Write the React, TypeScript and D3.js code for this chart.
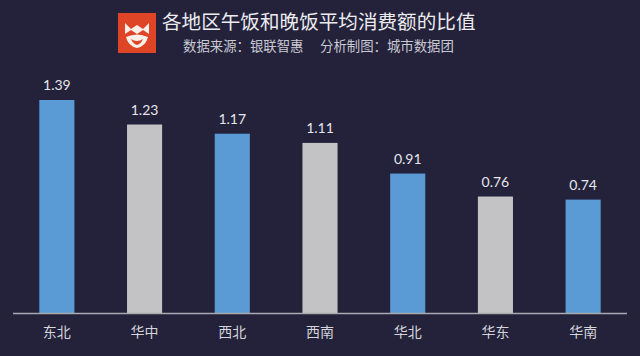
import React from "react";
import * as d3 from "d3";

const categories = ["东北", "华中", "西北", "西南", "华北", "华东", "华南"];
const values = [1.39, 1.23, 1.17, 1.11, 0.91, 0.76, 0.74];
const barColors = ["#5b9bd5", "#c3c3c5", "#5b9bd5", "#c3c3c5", "#5b9bd5", "#c3c3c5", "#5b9bd5"];
const title = "各地区午饭和晚饭平均消费额的比值";
const subtitleLeft = "数据来源：银联智惠";
const subtitleRight = "分析制图：城市数据团";

const W = 640;
const H = 356;
const baseY = 313;
const font = "'Noto Sans CJK SC', 'Noto Sans', sans-serif";

export default function App() {
  const x = d3.scaleBand<string>().domain(categories).range([13, 627]).paddingInner(0.6).paddingOuter(0.3);
  const y = d3.scaleLinear().domain([0, 1.39]).range([baseY, 100]);
  return (
    <svg width={W} height={H} style={{ position: "absolute", left: 0, top: 0, display: "block" }}>
      <rect x={0} y={0} width={W} height={H} fill="#23223a" />
      <g>
        <rect x={118} y={13} width={38} height={40} fill="#dd4526" />
        <path d="M125,23 L131,29 L137,25 L143,29 L149,23 L149,34 L143,30 L137,34 L131,30 L125,34 Z" fill="#fbefe9" />
        <path d="M126,37 Q137,32 148,37 Q146,46 137,48 Q128,46 126,37 Z M131,39 Q137,43 143,39 Q141,44 137,45 Q133,44 131,39 Z" fill="#fbefe9" fillRule="evenodd" />
      </g>
      <text x={162} y={29} fontFamily={font} fontSize={19.6} fill="#ececf0">{title}</text>
      <text x={183} y={50.5} fontFamily={font} fontSize={13.4} fill="#c9c9d2">{subtitleLeft}</text>
      <text x={320} y={50.5} fontFamily={font} fontSize={13.4} fill="#c9c9d2">{subtitleRight}</text>
      {categories.map((c, i) => (
        <g key={c}>
          <rect x={x(c)} y={y(values[i])} width={x.bandwidth()} height={baseY - y(values[i])} fill={barColors[i]} />
          <text x={(x(c) as number) + x.bandwidth() / 2} y={y(values[i]) - 10} textAnchor="middle" fontFamily="Lato, 'Noto Sans', sans-serif" fontSize={14} fill="#e6e6ec">
            {values[i].toFixed(2)}
          </text>
          <text x={(x(c) as number) + x.bandwidth() / 2} y={337} textAnchor="middle" fontFamily={font} fontSize={14} fill="#d4d4da">
            {c}
          </text>
        </g>
      ))}
      <line x1={13} x2={627} y1={baseY + 0.5} y2={baseY + 0.5} stroke="#a9a9b0" strokeWidth={1.5} />
    </svg>
  );
}
